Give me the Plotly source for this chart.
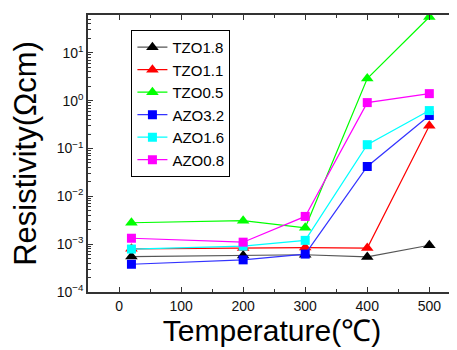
import plotly.graph_objects as go

temps = [20, 200, 300, 400, 500]
tzo18 = [5.5e-4, 5.8e-4, 6.0e-4, 5.4e-4, 9.5e-4]
tzo11 = [8.0e-4, 8.3e-4, 8.5e-4, 8.3e-4, 0.30]
tzo05 = [2.8e-3, 3.1e-3, 2.2e-3, 2.9, 56.0]
azo32 = [3.8e-4, 4.7e-4, 6.2e-4, 0.042, 0.49]
azo16 = [7.9e-4, 9.1e-4, 1.2e-3, 0.12, 0.62]
azo08 = [1.33e-3, 1.1e-3, 3.8e-3, 0.91, 1.4]

names = ["TZO1.8", "TZO1.1", "TZO0.5", "AZO3.2", "AZO1.6", "AZO0.8"]
series = [tzo18, tzo11, tzo05, azo32, azo16, azo08]
markers = ["triangle-up"] * 3 + ["square"] * 3
mcolors = ["#000000", "#ff0000", "#00ff00", "#0000ff", "#00ffff", "#ff00ff"]
lcolors = ["#555555", "#ff0000", "#00ff00", "#3333ff", "#00ffff", "#ff00ff"]

ytickvals = [1e-4, 1e-3, 1e-2, 1e-1, 1e0, 1e1]
yticktext = ["10<sup>−4</sup>", "10<sup>−3</sup>", "10<sup>−2</sup>",
             "10<sup>−1</sup>", "10<sup>0</sup>", "10<sup>1</sup>"]
xtickvals = [0, 100, 200, 300, 400, 500]

FONT = "Liberation Sans, Arial, sans-serif"

fig = go.Figure()
for n, ys, m, mc, lc in zip(names, series, markers, mcolors, lcolors):
    fig.add_trace(go.Scatter(
        x=temps, y=ys, name=n, mode="lines+markers",
        line=dict(color=lc, width=1.2),
        marker=dict(symbol=m, color=mc, size=11 if m == "triangle-up" else 9),
    ))

axis_common = dict(
    showline=True, linecolor="#333333", linewidth=1.5, mirror="ticks",
    ticks="inside", ticklen=5, tickcolor="#333333", showgrid=False, zeroline=False,
    automargin=False,
    tickfont=dict(family=FONT, size=14, color="#111111"),
)

fig.update_xaxes(
    range=[-50, 543], tickvals=xtickvals,
    minor=dict(ticks="inside", ticklen=3, dtick=50, tickcolor="#333333"),
    title=dict(text="Temperature(℃)", font=dict(family=FONT, size=30, color="#000"), standoff=4),
    **axis_common,
)
fig.update_yaxes(
    type="log", range=[-4, 1.79], tickvals=ytickvals, ticktext=yticktext,
    minor=dict(ticks="inside", ticklen=3, dtick="D1", tickcolor="#333333"),
    title=dict(text="Resistivity(Ωcm)", font=dict(family=FONT, size=31, color="#000"), standoff=20),
    **axis_common,
)

fig.update_layout(
    width=449, height=342,
    margin=dict(l=80, r=1, t=7, b=58),
    paper_bgcolor="white", plot_bgcolor="white",
    showlegend=True,
    legend=dict(
        x=0.118, y=0.946, xanchor="left", yanchor="top",
        bordercolor="#000", borderwidth=1, bgcolor="white",
        font=dict(family=FONT, size=15, color="#000"),
        tracegroupgap=0, itemwidth=30,
    ),
)

fig.write_html("out.html")
